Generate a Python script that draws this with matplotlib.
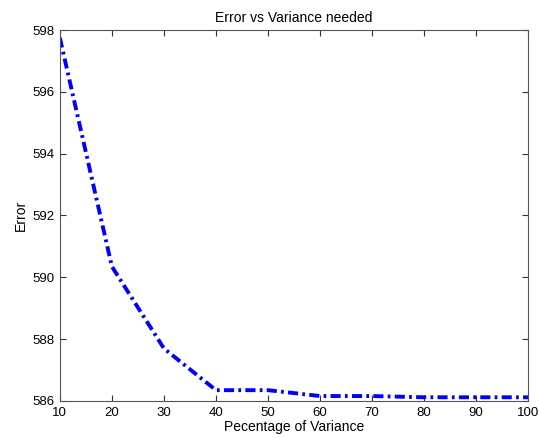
import numpy as np
import matplotlib.pyplot as plt

plt.rcParams['font.family'] = ['Liberation Sans', 'DejaVu Sans']

variance = [10, 20, 30, 40, 50, 60, 70, 80, 90, 100]
error = [597.75, 590.35, 587.7, 586.35, 586.35, 586.16, 586.16, 586.12, 586.12, 586.12]

fig = plt.figure(figsize=(5.39, 4.38), dpi=100)
ax = fig.add_axes([0.111, 0.0845, 0.869, 0.847])

ax.plot(variance, error, color='b', linewidth=2.8,
        linestyle=(0, (2.6, 1.1, 0.7, 1.1)))

ax.set_xlim(10, 100)
ax.set_ylim(586, 598)
ax.set_xticks(np.arange(10, 101, 10))
ax.set_yticks(np.arange(586, 599, 2))
ax.tick_params(direction='in', top=True, right=True, labelsize=9.5, length=4,
               color='#333333')
ax.tick_params(axis='x', pad=4)
ax.tick_params(axis='y', pad=4)
for s in ax.spines.values():
    s.set_color('#555555')
    s.set_linewidth(0.8)

ax.set_xlabel('Pecentage of Variance', fontsize=10, labelpad=1)
ax.set_ylabel('Error', fontsize=10, labelpad=3)
ax.set_title('Error vs Variance needed', fontsize=10, pad=6)

fig.savefig('out.png', dpi=100)
